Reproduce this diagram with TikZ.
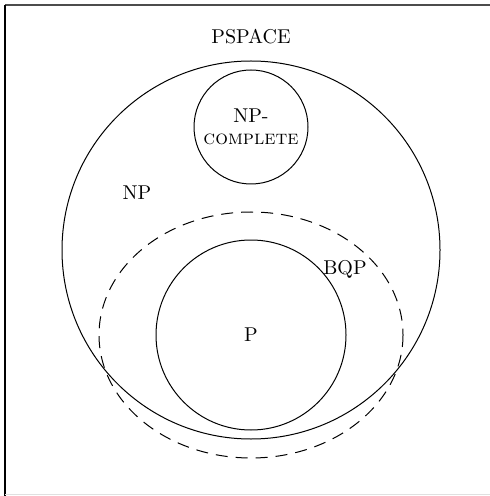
\documentclass[tikz,border=0pt]{standalone}
\begin{document}
\begin{tikzpicture}[x=0.5pt,y=-0.5pt,
  setc/.style={draw=black, line width=0.5pt},
  lbl/.style={inner sep=0pt, font=\normalsize}]
\useasboundingbox (0,0) rectangle (490,496);
% frame
\draw[line width=0.6pt, draw=black!70] (5,5) -- (495,5);
\draw[line width=0.6pt] (5,5) -- (5,496);
\draw[line width=0.4pt, draw=black!12] (5,494) -- (490,494);
% sets
\node[setc, circle, minimum size=189pt, inner sep=0pt] (np) at (251,250) {};
\node[setc, circle, minimum size=57pt, inner sep=0pt] (npc) at (251,127) {};
\node[setc, circle, minimum size=95pt, inner sep=0pt] (p) at (251,335) {};
\draw[setc, dashed, dash pattern=on 6pt off 4pt] (251,335) ellipse [x radius=152, y radius=123];
% labels
\node[lbl] (pspace) at (251,37) {PSPACE};
\node[lbl] (nplbl) at (137,193) {NP};
\node[lbl] (bqplbl) at (345,269) {BQP};
\node[lbl] (plbl) at (251,335) {P};
\node[lbl, align=center] (npclbl) at (npc.center) {NP-\\[-1pt]\textsc{complete}};
\end{tikzpicture}
\end{document}
